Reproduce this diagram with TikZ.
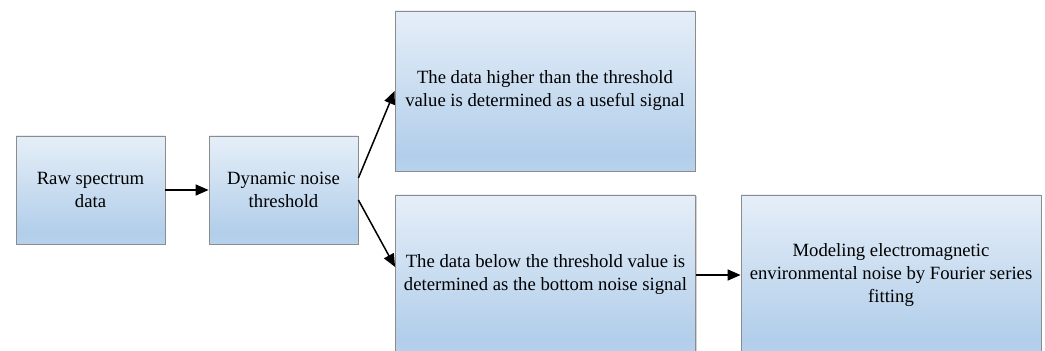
\documentclass[tikz,border=0pt]{standalone}
\usepackage{fontspec}
\setmainfont{Liberation Serif}
\usetikzlibrary{arrows.meta,shadows}
\definecolor{topc}{HTML}{F4F8FC}
\definecolor{midc}{HTML}{B2CEEA}
\definecolor{botc}{HTML}{C6DCF0}
\definecolor{edgec}{HTML}{8C8C8C}
\pgfdeclareverticalshading{boxshade}{100bp}{color(0bp)=(botc); color(12bp)=(botc); color(30bp)=(midc); color(88bp)=(topc); color(100bp)=(topc)}
\tikzset{
  procbox/.style={draw=edgec, line width=0.8pt, shading=boxshade, align=center,
    font=\fontsize{18.7pt}{23pt}\selectfont, inner sep=0pt,
    drop shadow={shadow xshift=1.2pt, shadow yshift=-1.2pt, fill=black!30, opacity=0.6}},
  conn/.style={line width=1.5pt, -{Triangle[length=13pt,width=11pt]}}
}
\begin{document}
\begin{tikzpicture}[x=1pt,y=1pt]
\useasboundingbox (0,0) rectangle (1045,351);
\node[procbox, minimum width=149pt, minimum height=108pt] (b1) at (90.5,161) {Raw spectrum\\data};
\node[procbox, minimum width=149pt, minimum height=108pt] (b2) at (283.5,161) {Dynamic noise\\threshold};
\node[procbox, minimum width=300pt, minimum height=160pt] (b3) at (545,260) {The data higher than the threshold\\value is determined as a useful signal};
\node[procbox, minimum width=300pt, minimum height=160pt] (b4) at (545.5,76) {The data below the threshold value is\\determined as the bottom noise signal};
\node[procbox, minimum width=300pt, minimum height=160pt] (b5) at (891,76) {Modeling electromagnetic\\environmental noise by Fourier series\\fitting};
\draw[conn] (b1.east) -- (b2.west);
\draw[conn] ([yshift=12pt]b2.east) -- (b3.west);
\draw[conn] ([yshift=-10pt]b2.east) -- ([yshift=8pt]b4.west);
\draw[conn] (b4.east) -- (b5.west);
\end{tikzpicture}
\end{document}
